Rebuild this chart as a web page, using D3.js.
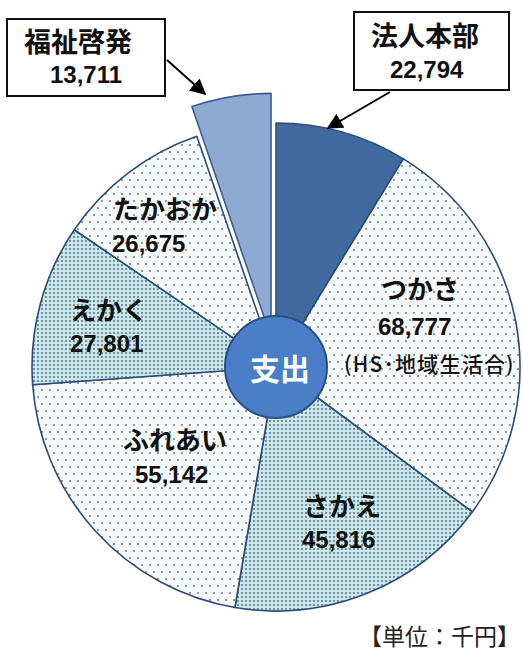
<!DOCTYPE html>
<html>
<head>
<meta charset="utf-8">
<script src="https://cdn.jsdelivr.net/npm/d3@7"></script>
<style>
  body { margin: 0; background: #fff; }
  svg { display: block; }
</style>
</head>
<body>
<div id="chart"></div>
<script>
// 支出 (単位: 千円)
var names = ["法人本部", "つかさ", "さかえ", "ふれあい", "えかく", "たかおか", "福祉啓発"];
var values = [22794, 68777, 45816, 55142, 27801, 26675, 13711];
var valueLabels = ["22,794", "68,777", "45,816", "55,142", "27,801", "26,675", "13,711"];
var fills = ["solidDark", "sparse", "dense", "sparse", "dense", "sparse", "solidLight"];

var width = 523, height = 653;
var cx = 276, cy = 367, radius = 244;

var svg = d3.select("#chart")
    .append("svg")
        .attr("width", width)
        .attr("height", height);

var defs = svg.append("defs");

// sparse dots (つかさ, ふれあい, たかおか)
var p1 = defs.append("pattern")
    .attr("id", "sparse")
    .attr("patternUnits", "userSpaceOnUse")
    .attr("width", 8).attr("height", 14);
p1.append("rect").attr("width", 8).attr("height", 14).attr("fill", "#f6fbfd");
p1.append("rect").attr("x", 1).attr("y", 1).attr("width", 2).attr("height", 2).attr("fill", "#979797");
p1.append("rect").attr("x", 5).attr("y", 8).attr("width", 2).attr("height", 2).attr("fill", "#979797");

// dense dots (さかえ, えかく)
var p2 = defs.append("pattern")
    .attr("id", "dense")
    .attr("patternUnits", "userSpaceOnUse")
    .attr("width", 4).attr("height", 4);
p2.append("rect").attr("width", 4).attr("height", 4).attr("fill", "#cae7ed");
p2.append("rect").attr("x", 1).attr("y", 1).attr("width", 2).attr("height", 2).attr("fill", "#738f98");

defs.append("marker")
    .attr("id", "arrow")
    .attr("viewBox", "0 0 10 10")
    .attr("refX", 9).attr("refY", 5)
    .attr("markerWidth", 8).attr("markerHeight", 8)
    .attr("markerUnits", "strokeWidth")
    .attr("orient", "auto")
  .append("path")
    .attr("d", "M0,0 L10,5 L0,10 z")
    .attr("fill", "#000");

var fillColor = {
    solidDark: "#40699f",
    solidLight: "#8eaad3",
    sparse: "url(#sparse)",
    dense: "url(#dense)"
};

var pie = d3.pie().sort(null).value(function(d) { return d; });
var arc = d3.arc().innerRadius(0).outerRadius(radius);
var arcs = pie(values);

var g = svg.append("g")
    .attr("transform", "translate(" + cx + "," + cy + ")");

// the last slice (福祉啓発) is pulled out
var explode = 30;

g.selectAll("path.slice")
    .data(arcs)
    .enter()
    .append("path")
        .attr("class", "slice")
        .attr("d", arc)
        .attr("transform", function(d, i) {
            if (i !== values.length - 1) return null;
            var a = (d.startAngle + d.endAngle) / 2;
            return "translate(" + (explode * Math.sin(a)) + "," + (-explode * Math.cos(a)) + ")";
        })
        .attr("fill", function(d, i) { return fillColor[fills[i]]; })
        .attr("stroke", function(d, i) { return i === values.length - 1 ? "#3d5f90" : "#2c4b7a"; })
        .attr("stroke-width", 1.6)
        .attr("stroke-linejoin", "round");

// center badge
g.append("circle")
    .attr("r", 51)
    .attr("fill", "#4a7ec7")
    .attr("stroke", "#2a4f85")
    .attr("stroke-width", 2);

g.append("text")
    .attr("x", 4)
    .attr("y", 0)
    .attr("text-anchor", "middle")
    .attr("dominant-baseline", "central")
    .style("font-family", "'Noto Sans CJK JP'")
    .style("font-weight", "bold")
    .style("font-size", "30px")
    .attr("fill", "#fff")
    .text("支出");

// in-slice labels: [index, name x, name y, value x, value y]
var inner = [
    [1, 381, 299, 378, 335],
    [2, 303, 516, 302, 548],
    [3, 123, 450, 135, 483],
    [4, 70, 320, 70, 352],
    [5, 113, 219, 112, 252]
];

inner.forEach(function(l) {
    svg.append("text")
        .attr("x", l[1]).attr("y", l[2])
        .style("font-family", "'Noto Sans CJK JP'")
        .style("font-weight", "bold")
        .style("font-size", "26px")
        .attr("fill", "#111")
        .text(names[l[0]]);
    svg.append("text")
        .attr("x", l[3]).attr("y", l[4])
        .style("font-family", "'Liberation Sans', Arial, sans-serif")
        .style("font-weight", "bold")
        .style("font-size", "24px")
        .attr("fill", "#111")
        .text(valueLabels[l[0]]);
});

svg.append("text")
    .attr("x", 344).attr("y", 372)
    .style("font-family", "'Noto Sans CJK JP'")
    .style("font-weight", "500")
    .style("font-size", "21px")
    .style("letter-spacing", "1.2px")
    .attr("fill", "#111")
    .text("(HS･地域生活合)");

// callout boxes: [index, box x, y, w, h, name x, name y, value x, value y, arrow from, arrow to]
var callouts = [
    [6, 7, 19, 158, 77, 24, 52, 50, 83, [167, 60], [205, 94]],
    [0, 354, 12, 155, 78, 371, 46, 390, 78, [390, 92], [328, 128]]
];

callouts.forEach(function(c) {
    svg.append("line")
        .attr("x1", c[9][0]).attr("y1", c[9][1])
        .attr("x2", c[10][0]).attr("y2", c[10][1])
        .attr("stroke", "#000")
        .attr("stroke-width", 2)
        .attr("marker-end", "url(#arrow)");
    svg.append("rect")
        .attr("x", c[1]).attr("y", c[2])
        .attr("width", c[3]).attr("height", c[4])
        .attr("fill", "#fff")
        .attr("stroke", "#111")
        .attr("stroke-width", 2);
    svg.append("text")
        .attr("x", c[5]).attr("y", c[6])
        .style("font-family", "'Noto Sans CJK JP'")
        .style("font-weight", "bold")
        .style("font-size", "27px")
        .attr("fill", "#111")
        .text(names[c[0]]);
    svg.append("text")
        .attr("x", c[7]).attr("y", c[8])
        .style("font-family", "'Liberation Sans', Arial, sans-serif")
        .style("font-weight", "bold")
        .style("font-size", "24px")
        .attr("fill", "#111")
        .text(valueLabels[c[0]]);
});

svg.append("text")
    .attr("x", 520).attr("y", 645)
    .attr("text-anchor", "end")
    .style("font-family", "'Noto Sans CJK JP'")
    .style("font-size", "23px")
    .attr("fill", "#222")
    .text("【単位：千円】");
</script>
</body>
</html>
